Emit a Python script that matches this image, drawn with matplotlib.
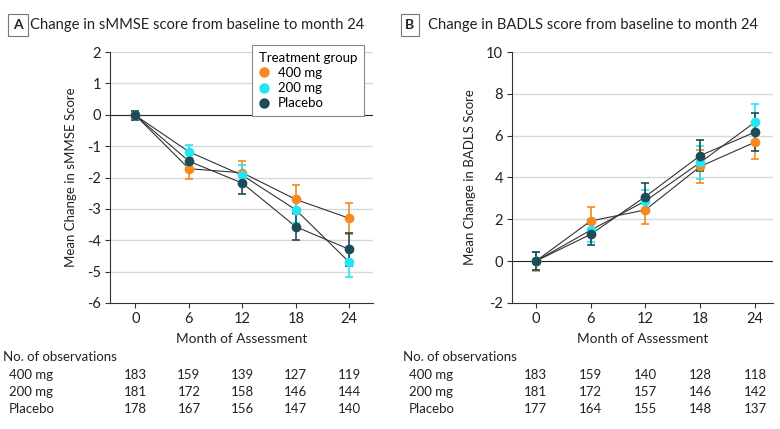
import matplotlib
matplotlib.use("Agg")
import matplotlib.pyplot as plt
from matplotlib.lines import Line2D
from matplotlib import transforms

plt.rcParams['font.family'] = ['Lato', 'DejaVu Sans']
plt.rcParams['axes.unicode_minus'] = False

months = [0, 6, 12, 18, 24]
groups = ["400 mg", "200 mg", "Placebo"]
colors = ["#F7891F", "#22E6F2", "#1E4B57"]

# Panel A: sMMSE
smmse_mean = {
    "400 mg": [-0.02, -1.72, -1.85, -2.70, -3.30],
    "200 mg": [-0.02, -1.18, -1.93, -3.03, -4.70],
    "Placebo": [-0.02, -1.48, -2.18, -3.57, -4.29],
}
smmse_err = {
    "400 mg": [0.15, 0.34, 0.37, 0.45, 0.50],
    "200 mg": [0.15, 0.23, 0.32, 0.41, 0.48],
    "Placebo": [0.15, 0.30, 0.33, 0.43, 0.53],
}
smmse_n = {
    "400 mg": [183, 159, 139, 127, 119],
    "200 mg": [181, 172, 158, 146, 144],
    "Placebo": [178, 167, 156, 147, 140],
}

# Panel B: BADLS
badls_mean = {
    "400 mg": [0.0, 1.92, 2.45, 4.53, 5.69],
    "200 mg": [0.0, 1.48, 2.88, 4.72, 6.65],
    "Placebo": [0.0, 1.28, 3.09, 5.05, 6.17],
}
badls_err = {
    "400 mg": [0.45, 0.65, 0.65, 0.78, 0.81],
    "200 mg": [0.42, 0.55, 0.53, 0.78, 0.88],
    "Placebo": [0.42, 0.52, 0.67, 0.76, 0.90],
}
badls_n = {
    "400 mg": [183, 159, 140, 128, 118],
    "200 mg": [181, 172, 157, 146, 142],
    "Placebo": [177, 164, 155, 148, 137],
}

W, H = 780, 429
fig = plt.figure(figsize=(W / 100, H / 100), dpi=100)


def fx(px):
    return px / W


def fy(py):
    return 1 - py / H


FS = 9.5
TXT = "#222222"


def panel(ax, means, errs, counts, ylim, yticks, xlim, ylabel, letter, title,
          letter_x, title_x, table_x, legend=False):
    ax.set_xlim(*xlim)
    ax.set_ylim(*ylim)
    ax.set_yticks(yticks)
    ax.set_xticks(months)
    for yt in yticks:
        if yt == 0:
            ax.axhline(0, color="#222222", lw=0.8, zorder=1)
        elif yt != ylim[0]:
            ax.axhline(yt, color="#d9d9d9", lw=1.0, zorder=0)
    for s in ["top", "right"]:
        ax.spines[s].set_visible(False)
    for s in ["left", "bottom"]:
        ax.spines[s].set_color("#333333")
        ax.spines[s].set_linewidth(0.8)
    ax.tick_params(axis="both", direction="out", length=3.5, width=0.8,
                   color="#333333", labelsize=10.5, labelcolor=TXT, pad=3)
    ax.set_xlabel("Month of Assessment", fontsize=9.8, color=TXT, labelpad=5)
    ax.set_ylabel(ylabel, fontsize=9.5, color=TXT, labelpad=7)

    for g, c in zip(groups, colors):
        ax.plot(months, means[g], color="#333333", lw=0.8, zorder=2)
    for g, c in zip(groups, colors):
        ax.errorbar(months, means[g], yerr=errs[g], fmt="o", color=c, ms=7,
                    mec="none", ecolor=c, elinewidth=1.2, capsize=3.2,
                    capthick=1.2, zorder=3)

    # title
    fig.text(fx(letter_x), fy(25), letter, fontsize=10, fontweight="bold",
             ha="center", va="center", color=TXT,
             bbox=dict(boxstyle="square,pad=0.35", fc="white", ec="#777777", lw=0.8))
    fig.text(fx(title_x), fy(25), title, fontsize=10.6, ha="left", va="center",
             color=TXT)

    # observations table
    tr = transforms.blended_transform_factory(ax.transData, fig.transFigure)
    fig.text(fx(table_x), fy(357), "No. of observations", fontsize=FS,
             ha="left", va="center", color=TXT)
    for i, g in enumerate(groups):
        yy = fy(375 + 17 * i)
        fig.text(fx(table_x + 6), yy, g, fontsize=FS, ha="left",
                 va="center", color=TXT)
        for m, n in zip(months, counts[g]):
            ax.text(m, yy, str(n), transform=tr, fontsize=FS, ha="center",
                    va="center", color=TXT)

    if legend:
        handles = [Line2D([], [], marker="o", ls="none", color=c, ms=7.5, mec="none")
                   for c in colors]
        leg = ax.legend(handles, groups, title="Treatment group", loc="upper right",
                        bbox_to_anchor=(0.966, 1.028), borderaxespad=0,
                        frameon=True, fancybox=False,
                        edgecolor="#888888", handletextpad=0.6, handlelength=0.8,
                        borderpad=0.5, labelspacing=0.25, fontsize=9.5,
                        title_fontsize=9.5, alignment="left", framealpha=1)
        leg.get_frame().set_linewidth(0.8)
        leg.set_zorder(5)


axA = fig.add_axes([fx(110), 1 - 303 / H, 263 / W, 251 / H])
axB = fig.add_axes([fx(512), 1 - 303 / H, 261 / W, 251 / H])

panel(axA, smmse_mean, smmse_err, smmse_n, (-6, 2), list(range(-6, 3)),
      (-2.86, 26.66), "Mean Change in sMMSE Score", "A",
      "Change in sMMSE score from baseline to month 24", 18, 30, 3, legend=True)
panel(axB, badls_mean, badls_err, badls_n, (-2, 10), list(range(-2, 11, 2)),
      (-2.6, 25.96), "Mean Change in BADLS Score", "B",
      "Change in BADLS score from baseline to month 24", 410, 428, 403)

fig.savefig("out.png", dpi=100)
